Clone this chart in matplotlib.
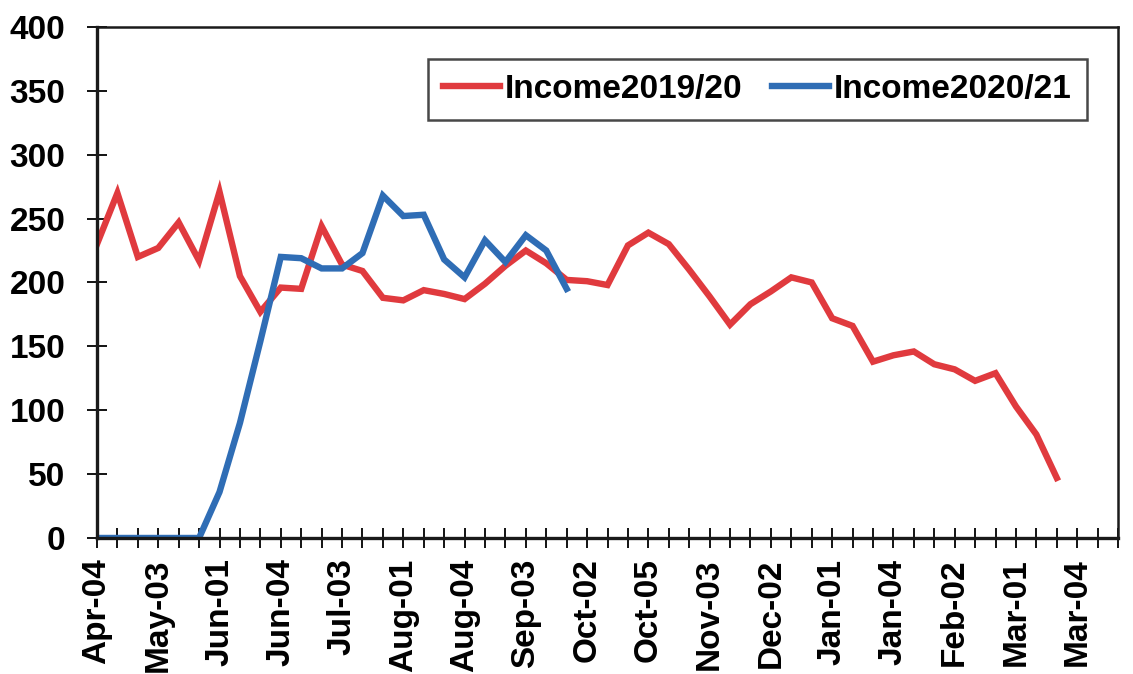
import matplotlib
matplotlib.use("Agg")
import matplotlib.pyplot as plt

plt.rcParams['font.family'] = ['Liberation Sans', 'DejaVu Sans']
plt.rcParams['font.weight'] = 'bold'

# Weekly categories (month-week), labels shown every third week
weeks = (["Apr-04"]
         + [f"May-0{i}" for i in range(1, 6)]
         + [f"Jun-0{i}" for i in range(1, 5)]
         + [f"Jul-0{i}" for i in range(1, 6)]
         + [f"Aug-0{i}" for i in range(1, 5)]
         + [f"Sep-0{i}" for i in range(1, 5)]
         + [f"Oct-0{i}" for i in range(1, 6)]
         + [f"Nov-0{i}" for i in range(1, 5)]
         + [f"Dec-0{i}" for i in range(1, 5)]
         + [f"Jan-0{i}" for i in range(1, 6)]
         + [f"Feb-0{i}" for i in range(1, 5)]
         + [f"Mar-0{i}" for i in range(1, 6)]
         + ["Apr-01"])

income_2019_20 = [230, 270, 220, 227, 247, 217, 271, 205, 177, 196,
                  195, 244, 214, 209, 188, 186, 194, 191, 187, 199,
                  213, 225, 215, 202, 201, 198, 229, 239, 230, 210,
                  189, 167, 183, 193, 204, 200, 172, 166, 138, 143,
                  146, 136, 132, 123, 129, 103, 81, 47]

income_2020_21 = [0, 0, 0, 0, 0, 0, 36, 90, 154, 220,
                  219, 211, 211, 223, 268, 252, 253, 218, 204, 233,
                  216, 237, 225, 195]

y_ticks = [0, 50, 100, 150, 200, 250, 300, 350, 400]

fig = plt.figure(figsize=(11.33, 6.74), dpi=100)
ax = fig.add_axes([0.0856, 0.2018, 0.9012, 0.7582])

x_all = list(range(len(weeks)))
ax.plot(x_all[:len(income_2019_20)], income_2019_20, color='#E03A3E',
        lw=4.6, solid_joinstyle='miter', label='Income2019/20')
ax.plot(x_all[:len(income_2020_21)], income_2020_21, color='#2F6DB5',
        lw=4.6, solid_joinstyle='miter', label='Income2020/21')

ax.set_xlim(0, len(weeks) - 1)
ax.set_ylim(0, 400)
ax.set_yticks(y_ticks)
ax.set_yticklabels([str(v) for v in y_ticks])
ax.set_xticks(x_all)
ax.set_xticklabels([w if i % 3 == 0 else "" for i, w in enumerate(weeks)],
                   rotation=90)

ax.tick_params(axis='y', direction='inout', length=14.4, width=1.3,
               pad=15.5, labelsize=24)
ax.tick_params(axis='x', direction='inout', length=13.7, width=1.3,
               pad=8, labelsize=24)
for lbl in ax.get_xticklabels() + ax.get_yticklabels():
    lbl.set_fontweight('bold')

for side in ['left', 'bottom']:
    ax.spines[side].set_linewidth(2.4)
for side in ['top', 'right']:
    ax.spines[side].set_linewidth(1.8)
for sp in ax.spines.values():
    sp.set_color('#1a1a1a')

leg = fig.legend(loc='center', bbox_to_anchor=(0.6686, 0.8672), ncol=2,
                 frameon=True, fancybox=False, edgecolor='#1a1a1a',
                 prop={'weight': 'bold', 'size': 24},
                 handlelength=1.7, handletextpad=0.15, columnspacing=0.9,
                 borderpad=0.45, borderaxespad=0)
leg.get_frame().set_linewidth(1.8)

fig.savefig('out.png', dpi=100, facecolor='white')
